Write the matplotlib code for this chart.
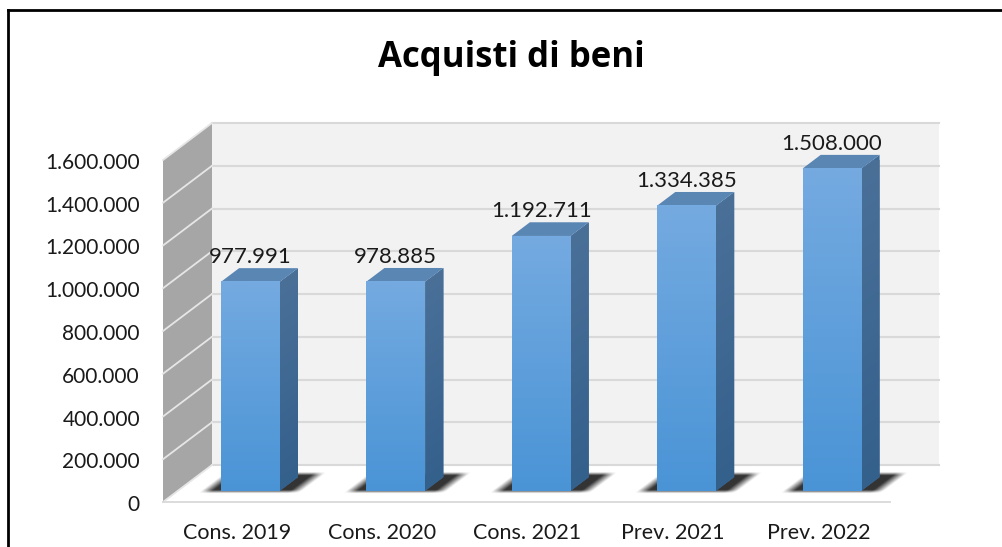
import numpy as np
import matplotlib
matplotlib.use('Agg')
import matplotlib.pyplot as plt
from matplotlib.patches import Polygon
from matplotlib.lines import Line2D
from matplotlib.transforms import Affine2D, IdentityTransform

plt.rcParams['font.family'] = ['Lato', 'DejaVu Sans']

categories = ['Cons. 2019', 'Cons. 2020', 'Cons. 2021', 'Prev. 2021', 'Prev. 2022']
values = [977991, 978885, 1192711, 1334385, 1508000]
yticks = np.arange(0, 1600001, 200000)
title = 'Acquisti di beni'


def it_fmt(v):
    return f'{v:,}'.replace(',', '.')


W, H = 1003, 547
fig = plt.figure(figsize=(W / 100, H / 100), dpi=100)
ax = fig.add_axes([163 / W, 45 / H, 727 / W, 342 / H])
ax.set_xlim(-0.5, len(categories) - 0.5)
ax.set_ylim(0, yticks[-1])
ax.axis('off')

# depth of the 3d box in pixels
DX, DY = 49, 37
ID = IdentityTransform()
xa, xb = -0.5, len(categories) - 0.5
vtop = yticks[-1]


def pt(x, v, d):
    px, py = ax.transData.transform((x, v))
    return (px + d * DX, py + d * DY)


def face(pts, z=1, **kw):
    p = Polygon(pts, closed=True, transform=ID, clip_on=False, zorder=z, **kw)
    ax.add_patch(p)
    return p


def seg(p, q, z=1, **kw):
    ax.add_line(Line2D([p[0], q[0]], [p[1], q[1]], transform=ID, clip_on=False, zorder=z, **kw))


def grad(c_top, c_bot, n=64):
    t = np.linspace(0, 1, n)[:, None, None]
    rgb = (np.array(c_top)[None, None, :] * (1 - t) + np.array(c_bot)[None, None, :] * t) / 255.0
    return np.concatenate([rgb, np.ones((n, 1, 1))], axis=2)


def soft(t, a, b, e):
    return np.clip((t - a) / e + 0.5, 0, 1) * np.clip((b - t) / e + 0.5, 0, 1)


# walls and floor
face([pt(xa, 0, 1), pt(xb, 0, 1), pt(xb, vtop, 1), pt(xa, vtop, 1)], fc='#f2f2f2', ec='none')
face([pt(xa, 0, 0), pt(xa, vtop, 0), pt(xa, vtop, 1), pt(xa, 0, 1)], fc='#a6a6a6', ec='none')
face([pt(xa, 0, 0), pt(xb, 0, 0), pt(xb, 0, 1), pt(xa, 0, 1)], fc='white', ec='none')
for v in yticks:
    seg(pt(xa, v, 1), pt(xb, v, 1), color='#d9d9d9', lw=1.5)
    seg(pt(xa, v, 0), pt(xa, v, 1), color='#e6e6e6', lw=1.3)
seg(pt(xa, 0, 0), pt(xb, 0, 0), color='#d9d9d9', lw=1.3)

# floor plane mapping: (x, depth) -> display
o0 = ax.transData.transform((0, 0))
sx = ax.transData.transform((1, 0))[0] - o0[0]
floor = Affine2D(np.array([[sx, DX, o0[0]], [0, DY, o0[1]], [0, 0, 1]]))

# bars
w = 0.405
d0, d1 = 0.30, 0.67
for i, v in enumerate(values):
    x0, x1 = i - w / 2, i + w / 2
    # blurred shadow on the floor
    gx = np.linspace(i - 0.5, i + 0.5, 160)
    gd = np.linspace(0.0, 1.0, 80)
    X, D = np.meshgrid(gx, gd)
    a = 0.8 * soft(X, x0 - 0.10, x1 + 0.11, 0.08) * soft(D, d0 - 0.02, d1 + 0.10, 0.09)
    rgba = np.zeros(a.shape + (4,))
    rgba[..., 3] = a
    ax.imshow(rgba, extent=[i - 0.5, i + 0.5, 0, 1], origin='lower', transform=floor,
              aspect='auto', zorder=2, clip_on=False, interpolation='bilinear')
    # side face
    o = pt(x1, 0, d0)
    hpx = pt(x1, v, d0)[1] - o[1]
    side = Affine2D(np.array([[(d1 - d0) * DX, 0, o[0]], [(d1 - d0) * DY, hpx, o[1]], [0, 0, 1]]))
    clip = face([pt(x1, 0, d0), pt(x1, 0, d1), pt(x1, v, d1), pt(x1, v, d0)], z=3,
                fc='#3f6d99', ec='none')
    im = ax.imshow(grad((74, 112, 152), (52, 96, 140)), extent=[0, 1, 0, 1], transform=side,
                   aspect='auto', zorder=3, interpolation='bilinear')
    im.set_clip_path(clip)
    # top face
    face([pt(x0, v, d0), pt(x1, v, d0), pt(x1, v, d1), pt(x0, v, d1)], z=3, fc='#5a86b4', ec='none')
    # front face
    front = ax.transData + Affine2D().translate(d0 * DX, d0 * DY)
    ax.imshow(grad((116, 170, 224), (74, 148, 214)), extent=[x0, x1, 0, v], transform=front,
              aspect='auto', zorder=4, clip_on=False, interpolation='bilinear')
    # data label
    lab = ax.transData + Affine2D().translate((d0 + d1) / 2 * DX - 9, d1 * DY + 5)
    ax.text(i, v, it_fmt(v), transform=lab, ha='center', va='baseline', fontsize=16,
            color='#1a1a1a', zorder=6)

ax.set_xlim(xa, xb)
ax.set_ylim(0, vtop)

# axis labels
ytr = ax.transData + Affine2D().translate(-23, -3)
for v in yticks:
    ax.text(xa, v, it_fmt(v), transform=ytr, ha='right', va='center', fontsize=15, color='#1a1a1a')
xtr = ax.transData + Affine2D().translate(1, -31)
for i, c in enumerate(categories):
    ax.text(i, 0, c, transform=xtr, ha='center', va='center', fontsize=15.5, color='#1a1a1a')

fig.text(511 / W, 1 - 58 / H, title, ha='center', va='center', fontsize=25, fontweight='bold',
         family=['Open Sans', 'DejaVu Sans'])

# outer frame (partly cut off)
fig.add_artist(Line2D([8 / W, 8 / W], [0, 1 - 10 / H], color='black', lw=2, transform=fig.transFigure))
fig.add_artist(Line2D([8 / W, 1], [1 - 10 / H, 1 - 10 / H], color='black', lw=2, transform=fig.transFigure))

fig.savefig('out.png', dpi=100)
